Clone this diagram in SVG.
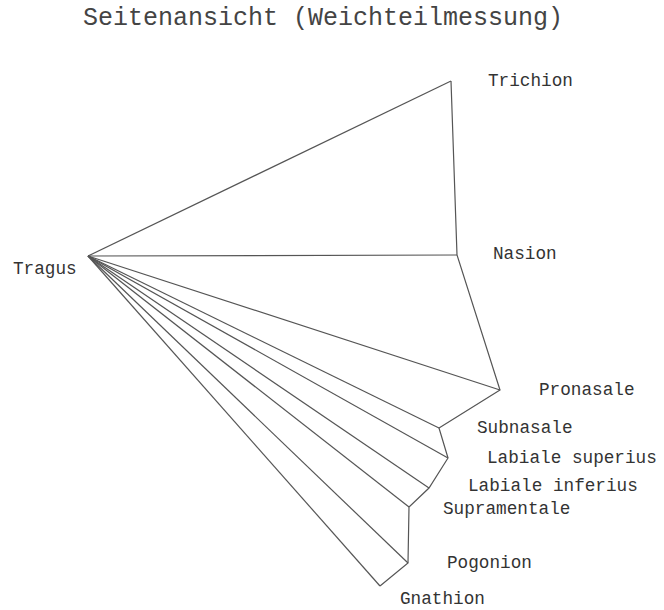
<svg xmlns="http://www.w3.org/2000/svg" width="664" height="610" viewBox="0 0 664 610">
<style>
.ln{stroke:#555;stroke-width:1.2;fill:none}
.lb{font-family:"Liberation Mono","DejaVu Sans Mono",monospace;font-size:17.7px;fill:#333}
.tt{font-family:"Liberation Mono","DejaVu Sans Mono",monospace;font-size:25px;fill:#444}
</style>
<rect width="664" height="610" fill="#fff"/>
<text class="tt" x="83" y="25">Seitenansicht (Weichteilmessung)</text>
<g id="connectors">
<line class="ln" x1="88" y1="256" x2="451" y2="81"/>
<line class="ln" x1="88" y1="256" x2="457" y2="255"/>
<line class="ln" x1="88" y1="256" x2="500" y2="390"/>
<line class="ln" x1="88" y1="256" x2="439" y2="428"/>
<line class="ln" x1="88" y1="256" x2="448" y2="458"/>
<line class="ln" x1="88" y1="256" x2="429" y2="488"/>
<line class="ln" x1="88" y1="256" x2="409" y2="507"/>
<line class="ln" x1="88" y1="256" x2="408" y2="563"/>
<line class="ln" x1="88" y1="256" x2="380" y2="586"/>
<polyline class="ln" points="451,81 457,255 500,390 439,428 448,458 429,488 409,507 408,563 380,586"/>
</g>
<g id="tragus"><text class="lb" x="13" y="274">Tragus</text></g>
<g id="trichion"><text class="lb" x="488" y="86">Trichion</text></g>
<g id="nasion"><text class="lb" x="493" y="259">Nasion</text></g>
<g id="pronasale"><text class="lb" x="539" y="395">Pronasale</text></g>
<g id="subnasale"><text class="lb" x="477" y="433">Subnasale</text></g>
<g id="labiale-superius"><text class="lb" x="487" y="463">Labiale superius</text></g>
<g id="labiale-inferius"><text class="lb" x="468" y="491">Labiale inferius</text></g>
<g id="supramentale"><text class="lb" x="443" y="514">Supramentale</text></g>
<g id="pogonion"><text class="lb" x="447" y="568">Pogonion</text></g>
<g id="gnathion"><text class="lb" x="400" y="604">Gnathion</text></g>
</svg>
